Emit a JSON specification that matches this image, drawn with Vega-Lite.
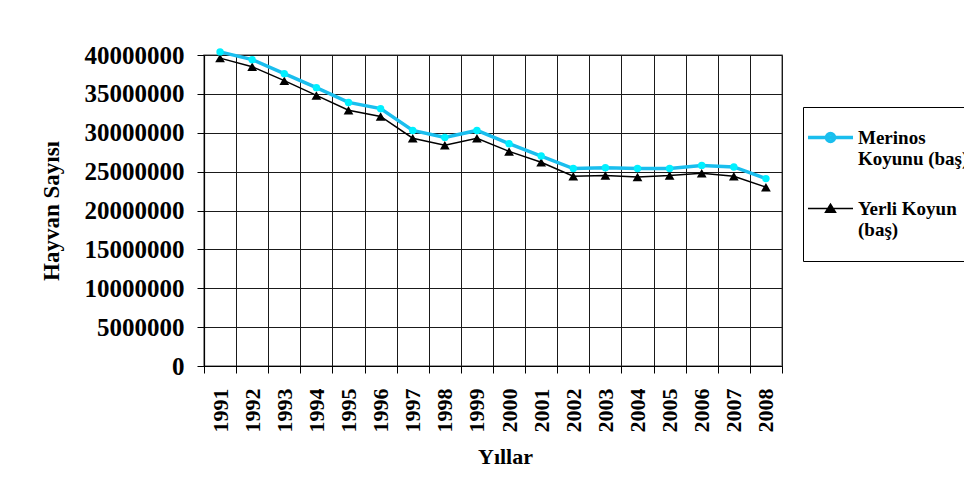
{
  "$schema": "https://vega.github.io/schema/vega-lite/v6.json",
  "width": 578,
  "height": 311,
  "autosize": {"type": "none"},
  "padding": {"left": 204, "top": 55, "right": 182, "bottom": 111},
  "background": "#ffffff",
  "config": {
    "font": "Liberation Serif",
    "view": {"stroke": "#808080", "strokeWidth": 1.5},
    "axis": {
      "labelFont": "Liberation Serif", "labelFontWeight": "bold", "labelColor": "#000000",
      "titleFont": "Liberation Serif", "titleFontWeight": "bold", "titleColor": "#000000",
      "domainColor": "#000000", "domainWidth": 1.2, "tickColor": "#000000", "tickSize": 7,
      "gridColor": "#1a1a1a", "gridOpacity": 1, "gridWidth": 1
    }
  },
  "data": {
    "values": [
      {"year": 1991, "series": "Merinos Koyunu (baş)", "value": 40400000},
      {"year": 1992, "series": "Merinos Koyunu (baş)", "value": 39400000},
      {"year": 1993, "series": "Merinos Koyunu (baş)", "value": 37600000},
      {"year": 1994, "series": "Merinos Koyunu (baş)", "value": 35800000},
      {"year": 1995, "series": "Merinos Koyunu (baş)", "value": 33900000},
      {"year": 1996, "series": "Merinos Koyunu (baş)", "value": 33100000},
      {"year": 1997, "series": "Merinos Koyunu (baş)", "value": 30300000},
      {"year": 1998, "series": "Merinos Koyunu (baş)", "value": 29400000},
      {"year": 1999, "series": "Merinos Koyunu (baş)", "value": 30300000},
      {"year": 2000, "series": "Merinos Koyunu (baş)", "value": 28600000},
      {"year": 2001, "series": "Merinos Koyunu (baş)", "value": 27000000},
      {"year": 2002, "series": "Merinos Koyunu (baş)", "value": 25400000},
      {"year": 2003, "series": "Merinos Koyunu (baş)", "value": 25500000},
      {"year": 2004, "series": "Merinos Koyunu (baş)", "value": 25400000},
      {"year": 2005, "series": "Merinos Koyunu (baş)", "value": 25400000},
      {"year": 2006, "series": "Merinos Koyunu (baş)", "value": 25800000},
      {"year": 2007, "series": "Merinos Koyunu (baş)", "value": 25600000},
      {"year": 2008, "series": "Merinos Koyunu (baş)", "value": 24100000},
      {"year": 1991, "series": "Yerli Koyun (baş)", "value": 39600000},
      {"year": 1992, "series": "Yerli Koyun (baş)", "value": 38500000},
      {"year": 1993, "series": "Yerli Koyun (baş)", "value": 36700000},
      {"year": 1994, "series": "Yerli Koyun (baş)", "value": 34800000},
      {"year": 1995, "series": "Yerli Koyun (baş)", "value": 32900000},
      {"year": 1996, "series": "Yerli Koyun (baş)", "value": 32100000},
      {"year": 1997, "series": "Yerli Koyun (baş)", "value": 29300000},
      {"year": 1998, "series": "Yerli Koyun (baş)", "value": 28400000},
      {"year": 1999, "series": "Yerli Koyun (baş)", "value": 29300000},
      {"year": 2000, "series": "Yerli Koyun (baş)", "value": 27600000},
      {"year": 2001, "series": "Yerli Koyun (baş)", "value": 26200000},
      {"year": 2002, "series": "Yerli Koyun (baş)", "value": 24400000},
      {"year": 2003, "series": "Yerli Koyun (baş)", "value": 24500000},
      {"year": 2004, "series": "Yerli Koyun (baş)", "value": 24300000},
      {"year": 2005, "series": "Yerli Koyun (baş)", "value": 24500000},
      {"year": 2006, "series": "Yerli Koyun (baş)", "value": 24800000},
      {"year": 2007, "series": "Yerli Koyun (baş)", "value": 24400000},
      {"year": 2008, "series": "Yerli Koyun (baş)", "value": 23000000}
    ]
  },
  "encoding": {
    "x": {
      "field": "year", "type": "quantitative",
      "scale": {"domain": [1990.5, 2008.5], "nice": false, "zero": false},
      "axis": {
        "values": [1990.5, 1991.5, 1992.5, 1993.5, 1994.5, 1995.5, 1996.5, 1997.5, 1998.5, 1999.5, 2000.5, 2001.5, 2002.5, 2003.5, 2004.5, 2005.5, 2006.5, 2007.5, 2008.5],
        "labelExpr": "datum.value < 2008 ? format(datum.value + 0.5, 'd') : ''",
        "labelAngle": -90, "labelOffset": 16, "labelFlush": false, "labelOverlap": false,
        "labelFontSize": 22, "labelPadding": 15,
        "grid": true,
        "title": "Yıllar", "titleFontSize": 22, "titlePadding": 14, "titleX": 301
      }
    },
    "y": {
      "field": "value", "type": "quantitative",
      "scale": {"domain": [0, 40000000], "nice": false},
      "axis": {
        "values": [0, 5000000, 10000000, 15000000, 20000000, 25000000, 30000000, 35000000, 40000000],
        "format": "d", "labelFontSize": 25, "labelPadding": 13,
        "grid": true,
        "title": "Hayvan Sayısı", "titleFontSize": 23, "titlePadding": 21
      }
    }
  },
  "layer": [
    {
      "transform": [{"filter": "datum.series == 'Yerli Koyun (baş)'"}],
      "mark": {"type": "line", "color": "#000000", "strokeWidth": 1.5}
    },
    {
      "transform": [{"filter": "datum.series == 'Merinos Koyunu (baş)'"}],
      "mark": {"type": "line", "color": "#1ABEEE", "strokeWidth": 3.5}
    },
    {
      "transform": [{"filter": "datum.series == 'Yerli Koyun (baş)'"}],
      "mark": {"type": "point", "shape": "triangle-up", "filled": true, "color": "#000000", "opacity": 1, "size": 95}
    },
    {
      "transform": [{"filter": "datum.series == 'Merinos Koyunu (baş)'"}],
      "mark": {"type": "point", "shape": "circle", "filled": true, "color": "#00F0FF", "opacity": 1, "size": 55}
    },
    {
      "transform": [{"filter": "false"}],
      "mark": {"type": "point", "filled": true, "opacity": 1},
      "encoding": {
        "shape": {
          "field": "series", "type": "nominal",
          "scale": {
            "domain": ["Merinos Koyunu (baş)", "Yerli Koyun (baş)"],
            "range": [
              "M-3,0L3,0M0.533,0C0.533,0.295,0.295,0.533,0,0.533C-0.295,0.533,-0.533,0.295,-0.533,0C-0.533,-0.295,-0.295,-0.533,0,-0.533C0.295,-0.533,0.533,-0.295,0.533,0Z",
              "M-3,0L3,0M0,-0.57L0.667,0.5L-0.667,0.5Z"
            ]
          },
          "legend": {
            "title": null, "orient": "none", "legendX": 599, "legendY": 52,
            "strokeColor": "#000000", "fillColor": "#ffffff", "padding": 21,
            "symbolSize": 225, "symbolOffset": -3, "labelOffset": 18,
            "labelFont": "Liberation Serif", "labelFontWeight": "bold", "labelFontSize": 19, "labelColor": "#000000",
            "labelBaseline": "middle", "labelLimit": 300, "rowPadding": 30,
            "labelExpr": "datum.label == 'Merinos Koyunu (baş)' ? ['Merinos', 'Koyunu (baş)'] : ['Yerli Koyun', '(baş)']"
          }
        },
        "fill": {
          "field": "series", "type": "nominal",
          "scale": {"domain": ["Merinos Koyunu (baş)", "Yerli Koyun (baş)"], "range": ["#00F0FF", "#000000"]},
          "legend": {
            "title": null, "orient": "none", "legendX": 599, "legendY": 52,
            "strokeColor": "#000000", "fillColor": "#ffffff", "padding": 21,
            "symbolSize": 225, "symbolOffset": -3, "labelOffset": 18,
            "labelFont": "Liberation Serif", "labelFontWeight": "bold", "labelFontSize": 19, "labelColor": "#000000",
            "labelBaseline": "middle", "labelLimit": 300, "rowPadding": 30,
            "labelExpr": "datum.label == 'Merinos Koyunu (baş)' ? ['Merinos', 'Koyunu (baş)'] : ['Yerli Koyun', '(baş)']"
          }
        },
        "stroke": {
          "field": "series", "type": "nominal",
          "scale": {"domain": ["Merinos Koyunu (baş)", "Yerli Koyun (baş)"], "range": ["#1ABEEE", "#000000"]},
          "legend": {
            "title": null, "orient": "none", "legendX": 599, "legendY": 52,
            "strokeColor": "#000000", "fillColor": "#ffffff", "padding": 21,
            "symbolSize": 225, "symbolOffset": -3, "labelOffset": 18,
            "labelFont": "Liberation Serif", "labelFontWeight": "bold", "labelFontSize": 19, "labelColor": "#000000",
            "labelBaseline": "middle", "labelLimit": 300, "rowPadding": 30,
            "labelExpr": "datum.label == 'Merinos Koyunu (baş)' ? ['Merinos', 'Koyunu (baş)'] : ['Yerli Koyun', '(baş)']"
          }
        },
        "strokeWidth": {
          "field": "series", "type": "nominal",
          "scale": {"domain": ["Merinos Koyunu (baş)", "Yerli Koyun (baş)"], "range": [3.5, 1.5]},
          "legend": {
            "title": null, "orient": "none", "legendX": 599, "legendY": 52,
            "strokeColor": "#000000", "fillColor": "#ffffff", "padding": 21,
            "symbolSize": 225, "symbolOffset": -3, "labelOffset": 18,
            "labelFont": "Liberation Serif", "labelFontWeight": "bold", "labelFontSize": 19, "labelColor": "#000000",
            "labelBaseline": "middle", "labelLimit": 300, "rowPadding": 30,
            "labelExpr": "datum.label == 'Merinos Koyunu (baş)' ? ['Merinos', 'Koyunu (baş)'] : ['Yerli Koyun', '(baş)']"
          }
        }
      }
    }
  ]
}
